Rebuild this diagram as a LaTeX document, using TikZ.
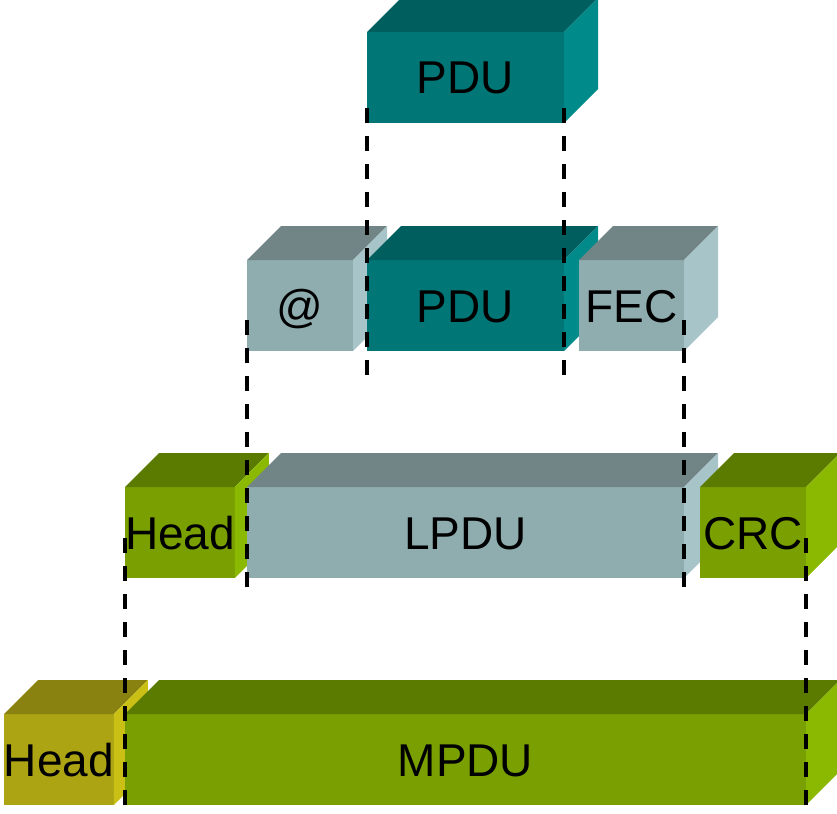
\documentclass[tikz,border=0pt]{standalone}
\usepackage{fontspec}
\setmainfont{Liberation Sans}
\usetikzlibrary{positioning,calc}
\definecolor{pduFront}{HTML}{007676}
\definecolor{pduTop}{HTML}{005E5E}
\definecolor{pduSide}{HTML}{008A8A}
\definecolor{lpduFront}{HTML}{8FADAF}
\definecolor{lpduTop}{HTML}{718587}
\definecolor{lpduSide}{HTML}{A7C5C8}
\definecolor{macFront}{HTML}{79A000}
\definecolor{macTop}{HTML}{5A7A00}
\definecolor{macSide}{HTML}{8BB800}
\definecolor{phyFront}{HTML}{ADA414}
\definecolor{phyTop}{HTML}{8A8210}
\definecolor{phySide}{HTML}{C9BF15}
% name, x, y, width, label, palette
\newcommand{\slab}[6]{%
  \node[face,fill=#6Front,minimum width=#4] (#1) at (#2,#3) {#5};
  \fill[#6Top] (#1.north west) -- ++(34,-34)
    -- ($(#1.north east)+(34,-34)$) -- (#1.north east) -- cycle;
  \fill[#6Side] (#1.north east) -- ++(34,-34)
    -- ($(#1.south east)+(34,-34)$) -- (#1.south east) -- cycle;
}

\begin{document}
\begin{tikzpicture}[x=1pt,y=-1pt,
          face/.style={anchor=north west,inner sep=0pt,outer sep=0pt,
                       minimum height=91pt,text=black,
                       text height=33pt,text depth=0pt,
                       font=\fontsize{46pt}{50pt}\selectfont},
          guide/.style={draw=black,line width=3.5pt,
                        dash pattern=on 15pt off 13pt},
        ]
        \useasboundingbox (0,0) rectangle (837,813);
        \slab{pduT}{367}{32}{197pt}{PDU}{pdu}
        \slab{addr}{247}{260}{106pt}{@}{lpdu}
        \slab{pduM}{367}{260}{197pt}{PDU}{pdu}
        \slab{fec}{579}{260}{105pt}{FEC}{lpdu}
        \slab{headL}{125}{487}{106pt}{Head}{mac}
        \slab{lpdu}{247}{487}{437pt}{LPDU}{lpdu}
        \slab{crc}{700}{487}{106pt}{CRC}{mac}
        \slab{headP}{4}{714}{106pt}{Head}{phy}
        \slab{mpdu}{125}{714}{681pt}{MPDU}{mac}

        \draw[guide] ($(pduT.south west)+(0,-15)$) -- ($(pduM.south west)+(0,25)$);
        \draw[guide] ($(pduT.south east)+(0,-15)$) -- ($(pduM.south east)+(0,25)$);
        \draw[guide] ($(addr.south west)+(0,-31)$) -- ($(lpdu.south west)+(0,9)$);
        \draw[guide] ($(fec.south east)+(0,-31)$) -- ($(lpdu.south east)+(0,9)$);
        \draw[guide] ($(headL.south west)+(0,-40)$) -- ($(mpdu.south west)+(0,8)$);
        \draw[guide] ($(crc.south east)+(0,-40)$) -- ($(mpdu.south east)+(0,8)$);
      \end{tikzpicture}
\end{document}
